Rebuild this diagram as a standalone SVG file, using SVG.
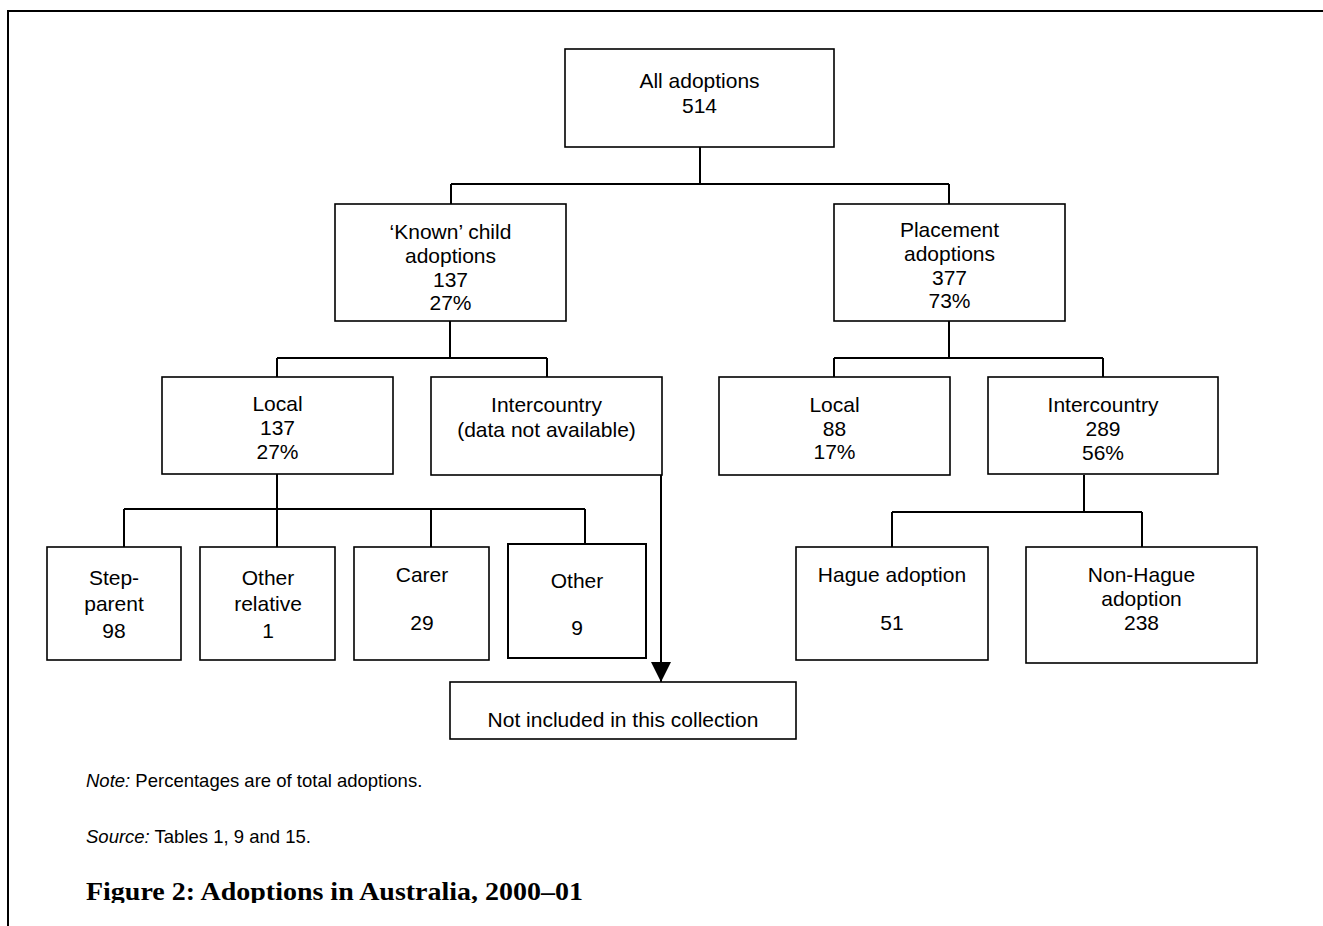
<svg xmlns="http://www.w3.org/2000/svg" width="1323" height="926" viewBox="0 0 1323 926">
<defs>
<style>
.box{fill:#fff;stroke:#000;stroke-width:1.6}
.t{font-family:"Liberation Sans",Arial,sans-serif;font-size:21px;fill:#000;text-anchor:middle}
.c{fill:none;stroke:#000;stroke-width:2}
.n{font-family:"Liberation Sans",Arial,sans-serif;font-size:18.5px;fill:#000}
.ttl{font-family:"Liberation Serif","Times New Roman",serif;font-size:25px;font-weight:bold;fill:#000}
</style>
<marker id="arr" markerWidth="20" markerHeight="20" refX="20" refY="10" orient="auto" markerUnits="userSpaceOnUse">
<path d="M0,0 L20,10 L0,20 Z" fill="#000"/>
</marker>
<clipPath id="clipTitle"><rect x="0" y="0" width="1323" height="903"/></clipPath>
</defs>
<rect x="0" y="0" width="1323" height="926" fill="#fff"/>
<path d="M8,926 V11 H1323" fill="none" stroke="#000" stroke-width="2"/>

<g id="connectors">
<path class="c" d="M700,147 V184 M451,184 H949 M451,184 V204 M949,184 V204"/>
<path class="c" d="M450,321 V358 M277,358 H547 M277,358 V377 M547,358 V377"/>
<path class="c" d="M949,321 V358 M834,358 H1103 M834,358 V377 M1103,358 V377"/>
<path class="c" d="M277,474 V509 M124,509 H585 M124,509 V547 M277,509 V547 M431,509 V547 M585,509 V544"/>
<path class="c" d="M1084,475 V512 M892,512 H1142 M892,512 V547 M1142,512 V547"/>
<path class="c" d="M661,468 V682" marker-end="url(#arr)"/>
</g>

<g id="all">
<rect class="box" x="565" y="49" width="269" height="98"/>
<text class="t" x="699.5" y="88">All adoptions</text>
<text class="t" x="699.5" y="113">514</text>
</g>
<g id="known">
<rect class="box" x="335" y="204" width="231" height="117"/>
<text class="t" x="450.5" y="239">‘Known’ child</text>
<text class="t" x="450.5" y="263">adoptions</text>
<text class="t" x="450.5" y="287">137</text>
<text class="t" x="450.5" y="310">27%</text>
</g>
<g id="placement">
<rect class="box" x="834" y="204" width="231" height="117"/>
<text class="t" x="949.5" y="237">Placement</text>
<text class="t" x="949.5" y="261">adoptions</text>
<text class="t" x="949.5" y="285">377</text>
<text class="t" x="949.5" y="308">73%</text>
</g>
<g id="known-local">
<rect class="box" x="162" y="377" width="231" height="97"/>
<text class="t" x="277.5" y="411">Local</text>
<text class="t" x="277.5" y="435">137</text>
<text class="t" x="277.5" y="459">27%</text>
</g>
<g id="known-intercountry">
<rect class="box" x="431" y="377" width="231" height="98"/>
<text class="t" x="546.5" y="412">Intercountry</text>
<text class="t" x="546.5" y="437">(data not available)</text>
</g>
<g id="placement-local">
<rect class="box" x="719" y="377" width="231" height="98"/>
<text class="t" x="834.5" y="412">Local</text>
<text class="t" x="834.5" y="436">88</text>
<text class="t" x="834.5" y="459">17%</text>
</g>
<g id="placement-intercountry">
<rect class="box" x="988" y="377" width="230" height="97"/>
<text class="t" x="1103" y="412">Intercountry</text>
<text class="t" x="1103" y="436">289</text>
<text class="t" x="1103" y="460">56%</text>
</g>
<g id="step-parent">
<rect class="box" x="47" y="547" width="134" height="113"/>
<text class="t" x="114" y="585">Step-</text>
<text class="t" x="114" y="611">parent</text>
<text class="t" x="114" y="638">98</text>
</g>
<g id="other-relative">
<rect class="box" x="200" y="547" width="135" height="113"/>
<text class="t" x="268" y="585">Other</text>
<text class="t" x="268" y="611">relative</text>
<text class="t" x="268" y="638">1</text>
</g>
<g id="carer">
<rect class="box" x="354" y="547" width="135" height="113"/>
<text class="t" x="422" y="582">Carer</text>
<text class="t" x="422" y="630">29</text>
</g>
<g id="other">
<rect class="box" x="508" y="544" width="138" height="114" style="stroke-width:2"/>
<text class="t" x="577" y="588">Other</text>
<text class="t" x="577" y="635">9</text>
</g>
<g id="hague">
<rect class="box" x="796" y="547" width="192" height="113"/>
<text class="t" x="892" y="582">Hague adoption</text>
<text class="t" x="892" y="630">51</text>
</g>
<g id="non-hague">
<rect class="box" x="1026" y="547" width="231" height="116"/>
<text class="t" x="1141.5" y="582">Non-Hague</text>
<text class="t" x="1141.5" y="606">adoption</text>
<text class="t" x="1141.5" y="630">238</text>
</g>
<g id="not-included">
<rect class="box" x="450" y="682" width="346" height="57"/>
<text class="t" x="623" y="727">Not included in this collection</text>
</g>

<g id="notes">
<text class="n" x="86" y="787"><tspan font-style="italic">Note:</tspan> Percentages are of total adoptions.</text>
<text class="n" x="86" y="843"><tspan font-style="italic">Source:</tspan> Tables 1, 9 and 15.</text>
<text class="ttl" x="86" y="900" textLength="497" lengthAdjust="spacingAndGlyphs" clip-path="url(#clipTitle)">Figure 2: Adoptions in Australia, 2000–01</text>
</g>
</svg>
